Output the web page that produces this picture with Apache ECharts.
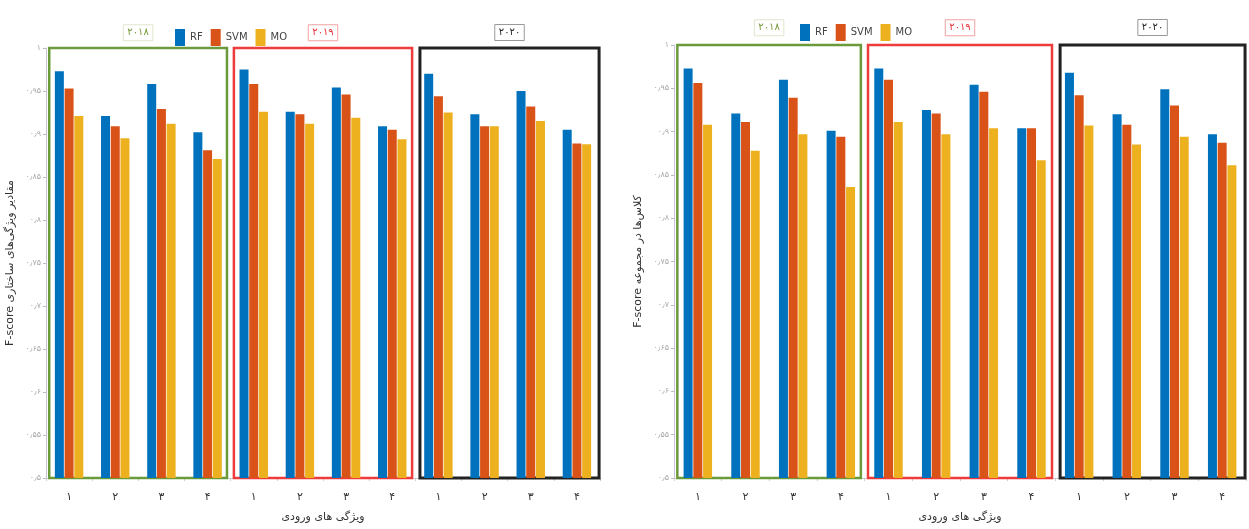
<!DOCTYPE html>
<html><head><meta charset="utf-8">
<script src="https://cdn.jsdelivr.net/npm/echarts@6/dist/echarts.min.js"></script>
<style>html,body{margin:0;padding:0;background:#fff}#c{width:1249px;height:529px}</style>
</head><body><div id="c"></div>
<script>
const years = ['۲۰۱۸', '۲۰۱۹', '۲۰۲۰'];
const features = ['۱', '۲', '۳', '۴'];
const seriesNames = ['RF', 'SVM', 'MO'];
// left chart (values per feature group, 2018 | 2019 | 2020)
const leftRF  = [0.973, 0.921, 0.958, 0.902, 0.975, 0.926, 0.954, 0.909, 0.970, 0.923, 0.950, 0.905];
const leftSVM = [0.953, 0.909, 0.929, 0.881, 0.958, 0.923, 0.946, 0.905, 0.944, 0.909, 0.932, 0.889];
const leftMO  = [0.921, 0.895, 0.912, 0.871, 0.926, 0.912, 0.919, 0.894, 0.925, 0.909, 0.915, 0.888];
// right chart
const rightRF  = [0.973, 0.921, 0.960, 0.901, 0.973, 0.925, 0.954, 0.904, 0.968, 0.920, 0.949, 0.897];
const rightSVM = [0.956, 0.911, 0.939, 0.894, 0.960, 0.921, 0.946, 0.904, 0.942, 0.908, 0.930, 0.887];
const rightMO  = [0.908, 0.878, 0.897, 0.836, 0.911, 0.897, 0.904, 0.867, 0.907, 0.885, 0.894, 0.861];
const yMin = 0.5, yMax = 1.0, yStep = 0.05;
const leftTitle = 'F-score مقادیر ویژگی‌های ساختاری';
const rightTitle = 'F-score کلاس‌ها در مجموعه';
const xTitle = 'ویژگی های ورودی';

const colors = ['#0072BD', '#D95319', '#EDB120'];
const FONT = 'DejaVu Sans';
const fa = s => String(s).replace(/[0-9]/g, d => '۰۱۲۳۴۵۶۷۸۹'[d]).replace('.', '٫');
const cats = [];
years.forEach(y => features.forEach(f => cats.push(y + '|' + f)));

const boxStyles = [
  {border: '#6a9a3a', text: '#7a9a3a', lblBorder: 'rgba(200,215,170,0.6)', w: 2.5},
  {border: '#ee3b3b', text: '#e8323c', lblBorder: '#f3a0a0', w: 2.5},
  {border: '#222', text: '#222', lblBorder: '#999', w: 3}
];
const boxRanges = [[0.07, 3.92], [4.07, 7.93], [8.1, 11.98]];

function makeBoxes(dist) {
  return boxRanges.map((r, i) => [{
    xAxis: r[0], yAxis: yMin, name: years[i],
    itemStyle: {color: 'rgba(0,0,0,0)', borderColor: boxStyles[i].border, borderWidth: boxStyles[i].w},
    label: {show: true, position: 'top', distance: dist, formatter: years[i], color: boxStyles[i].text,
      fontFamily: FONT, fontSize: 10, borderColor: boxStyles[i].lblBorder, borderWidth: 1, padding: [3, 4]}
  }, {xAxis: r[1], yAxis: yMax}]);
}

function yAxisDef(grid, name) {
  return {
    type: 'value', gridIndex: grid, min: yMin, max: yMax, interval: yStep,
    name: name, nameLocation: 'middle', nameGap: 30, nameRotate: 90,
    nameTextStyle: {fontFamily: FONT, fontSize: 11, color: '#333'},
    axisLine: {show: true, lineStyle: {color: '#c8c4d8'}},
    axisTick: {show: true, length: 3, lineStyle: {color: '#bbb'}},
    splitLine: {show: false},
    axisLabel: {fontFamily: FONT, fontSize: 8, color: '#aaa', margin: 5,
      formatter: v => fa(Math.round(v * 100) / 100)}
  };
}
function xAxisDef(grid) {
  return {
    type: 'category', gridIndex: grid, data: cats,
    name: xTitle, nameLocation: 'middle', nameGap: 34,
    nameTextStyle: {fontFamily: FONT, fontSize: 11, color: '#333'},
    axisLine: {show: true, lineStyle: {color: '#ccc'}},
    axisTick: {show: true, length: 3, lineStyle: {color: '#ccc'}},
    axisLabel: {fontFamily: FONT, fontSize: 11, color: '#333', margin: 14, formatter: v => v.split('|')[1]}
  };
}
function hiddenX(grid) {
  return {type: 'value', gridIndex: grid, min: 0, max: cats.length, show: false};
}
function bars(grid, name, data, ci) {
  return {type: 'bar', name: name, xAxisIndex: grid, yAxisIndex: grid, data: data,
    barWidth: 9, barGap: '8%', itemStyle: {color: colors[ci]}};
}
function boxSeries(grid, dist) {
  return {type: 'line', xAxisIndex: grid + 2, yAxisIndex: grid, data: [], silent: true,
    symbol: 'none', markArea: {silent: true, data: makeBoxes(dist)}};
}
const legendBase = {
  data: seriesNames, icon: 'rect', itemWidth: 10, itemHeight: 17, itemGap: 8,
  textStyle: {fontFamily: FONT, fontSize: 10, color: '#444'}
};

const chart = echarts.init(document.getElementById('c'), null, {renderer: 'canvas'});
chart.setOption({
  animation: false,
  color: colors,
  legend: [
    Object.assign({left: 170, top: 24}, legendBase),
    Object.assign({left: 795, top: 19}, legendBase)
  ],
  grid: [
    {left: 46, top: 48, width: 554, height: 430},
    {left: 674, top: 45, width: 572, height: 433}
  ],
  xAxis: [xAxisDef(0), xAxisDef(1), hiddenX(0), hiddenX(1)],
  yAxis: [yAxisDef(0, leftTitle), yAxisDef(1, rightTitle)],
  series: [
    bars(0, seriesNames[0], leftRF, 0),
    bars(0, seriesNames[1], leftSVM, 1),
    bars(0, seriesNames[2], leftMO, 2),
    bars(1, seriesNames[0], rightRF, 0),
    bars(1, seriesNames[1], rightSVM, 1),
    bars(1, seriesNames[2], rightMO, 2),
    boxSeries(0, 6),
    boxSeries(1, 8)
  ]
});
</script></body></html>
